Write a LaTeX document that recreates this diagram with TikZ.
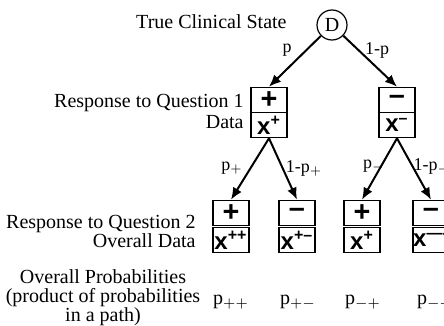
\documentclass[tikz,border=0pt]{standalone}
\usepackage{fontspec}
\setmainfont{Liberation Serif}
\setsansfont{Liberation Sans}
\usetikzlibrary{arrows.meta}
\tikzset{state/.style = {shape = circle, draw, line width = 0.6pt, minimum size = 15pt, inner sep = 0pt}}
\tikzset{cell/.style = {shape = rectangle, draw, line width = 0.8pt, minimum width = 18pt, minimum height = 12.5pt, inner sep = 0pt, font = \sffamily\bfseries}}
\tikzset{edge/.style = {-{Latex[length = 6pt, width = 5pt]}, line width = 1pt}}
\tikzset{prob/.style = {font = \small, inner sep = 1pt}}
\tikzset{caption/.style = {align = right, anchor = east, inner sep = 0pt, font = \fontsize{10}{9.5}\selectfont}}

\begin{document}
\begin{tikzpicture}[x = 0.5pt, y = -0.5pt]
	\useasboundingbox (0, 0) rectangle (444, 326);

	% tree
	\node[state] (d) at (332, 25) {D};

	\node[cell] (q1p) at (269, 100) {\Large +};
	\node[cell] (q1px) at (269, 125) {\large x\textsuperscript{+}};
	\node[cell] (q1m) at (397, 100) {\Large --};
	\node[cell] (q1mx) at (397, 125) {\large x\textsuperscript{--}};

	\node[cell] (q2pp) at (231, 213) {\Large +};
	\node[cell] (q2ppx) at (231, 240) {\large x\textsuperscript{++}};
	\node[cell] (q2pm) at (297, 213) {\Large --};
	\node[cell] (q2pmx) at (297, 240) {\large x\textsuperscript{+--}};
	\node[cell] (q2mp) at (362, 213) {\Large +};
	\node[cell] (q2mpx) at (362, 240) {\large x\textsuperscript{+}};
	\node[cell] (q2mm) at (431, 213) {\Large --};
	\node[cell] (q2mmx) at (431, 240) {\large x\textsuperscript{----}};

	\draw[edge] (d) to (q1p.north);
	\draw[edge] (d) to (q1m.north);
	\draw[edge] (q1px.south) to (q2pp.north);
	\draw[edge] (q1px.south) to (q2pm.north);
	\draw[edge] (q1mx.south) to (q2mp.north);
	\draw[edge] (q1mx.south) to (q2mm.north);

	% branch labels
	\node[prob] (lp) at (287, 50) {p};
	\node[prob] (lq) at (377, 50) {1-p};
	\node[prob] (lpp) at (232, 168) {p$_+$};
	\node[prob] (lpq) at (304, 168) {1-p$_+$};
	\node[prob] (lmp) at (374, 166) {p$_-$};
	\node[prob] (lmq) at (432, 166) {1-p$_-$};

	% row captions
	\node[caption] (c0) at (287, 22) {True Clinical State};
	\node[caption] (c1) at (244, 111) {Response to Question 1\\[1pt]Data};
	\node[caption] (c2) at (196, 231) {Response to Question 2\\Overall Data};
	\node[caption, align = center, anchor = center] (c3) at (103, 298) {Overall Probabilities\\(product of probabilities\\in a path)};

	% path products
	\node (r1) at (231, 302) {p$_{++}$};
	\node (r2) at (298, 302) {p$_{+-}$};
	\node (r3) at (363, 302) {p$_{-+}$};
	\node (r4) at (435, 302) {p$_{--}$};
\end{tikzpicture}
\end{document}
